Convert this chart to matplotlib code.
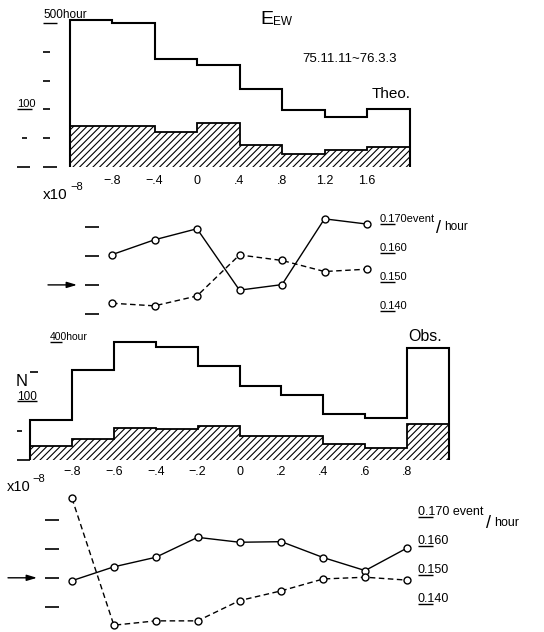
import matplotlib
matplotlib.use('Agg')
import matplotlib.pyplot as plt

plt.rcParams['font.family'] = ['Liberation Sans', 'DejaVu Sans']
plt.rcParams['hatch.linewidth'] = 0.8

# - Theoretical distribution (upper half)
theo_edges = [-1.2, -0.8, -0.4, 0.0, 0.4, 0.8, 1.2, 1.6, 2.0]
theo_total = [255, 250, 187, 177, 135, 99, 87, 101]      # hours
theo_hatch = [71, 71, 60, 76, 39, 22, 30, 35]
theo_ticks = [-0.8, -0.4, 0.0, 0.4, 0.8, 1.2, 1.6]
theo_ticklabels = ['\u2212.8', '\u2212.4', '0', '.4', '.8', '1.2', '1.6']
theo_x = [-0.8, -0.4, 0.0, 0.4, 0.8, 1.2, 1.6]
theo_solid = [0.1604, 0.1655, 0.1693, 0.1482, 0.1501, 0.1727, 0.1709]
theo_dash = [0.1437, 0.1428, 0.1462, 0.1603, 0.1584, 0.1546, 0.1554]

# - Observed distribution (lower half)
obs_edges = [-1.0, -0.8, -0.6, -0.4, -0.2, 0.0, 0.2, 0.4, 0.6, 0.8, 1.0]
obs_total = [68, 153, 200, 192, 160, 126, 111, 79, 72, 190]
obs_hatch = [24, 35, 54, 52, 57, 40, 40, 27, 20, 62]
obs_ticks = [-0.8, -0.6, -0.4, -0.2, 0.0, 0.2, 0.4, 0.6, 0.8]
obs_ticklabels = ['\u2212.8', '\u2212.6', '\u2212.4', '\u2212.2', '0', '.2', '.4', '.6', '.8']
obs_x = [-0.8, -0.6, -0.4, -0.2, 0.0, 0.2, 0.4, 0.6, 0.8]
obs_solid = [0.1490, 0.1538, 0.1571, 0.1640, 0.1623, 0.1625, 0.1570, 0.1525, 0.1603]
obs_dash = [0.1775, 0.1336, 0.1351, 0.1351, 0.1421, 0.1455, 0.1496, 0.1502, 0.1492]

rate_ticks = [0.140, 0.150, 0.160, 0.170]
rate_labels = ['0.140', '0.150', '0.160', '0.170']

W, H = 544, 632
fig = plt.figure(figsize=(W / 100, H / 100), dpi=100)


def panel(top, bottom, x0px, xppu, y0px, y0val, yppu):
    ax = fig.add_axes([0, 1 - bottom / H, 1, (bottom - top) / H])
    ax.set_xlim(-x0px / xppu, (W - x0px) / xppu)
    ax.set_ylim(y0val - (bottom - y0px) / yppu, y0val + (y0px - top) / yppu)
    for s in ax.spines.values():
        s.set_visible(False)
    ax.set_xticks([])
    ax.set_yticks([])
    ax.patch.set_alpha(0)
    return ax


def ftext(xpx, ypx, s, size, **kw):
    fig.text(xpx / W, 1 - ypx / H, s, fontsize=size, va='baseline', ha='left', **kw)


def dash(ax, y, x1, x2, lw=1.2):
    ax.hlines(y, x1 / W, x2 / W, transform=ax.get_yaxis_transform(), color='k', lw=lw)


def hist(ax, edges, total, hatched):
    ax.stairs(hatched, edges, fill=True, facecolor='white', edgecolor='k',
              hatch='/////', lw=1.3)
    ax.stairs(total, edges, color='k', lw=1.5)


def lines(ax, x, solid, dashed):
    ax.plot(x, solid, '-o', color='k', lw=1.0, ms=5, mfc='white', mew=1.0, clip_on=False)
    ax.plot(x, dashed, color='k', lw=1.0, ls=(0, (4, 2.5)), marker='o', ms=5,
            mfc='white', mew=1.0, clip_on=False)


def xlabels(ax, ticks, labels, pad):
    ax.spines['bottom'].set_position(('data', 0))
    ax.set_xticks(ticks, labels)
    ax.tick_params(axis='x', length=0, pad=pad, labelsize=9)


def rate_axis(ax, xtick, xlab, size, first):
    # left dashes, arrow at 0.150 and underlined labels on the right
    for v in rate_ticks:
        dash(ax, v, xtick, xtick + 14)
    tr = ax.get_yaxis_transform()
    for v, s in zip(rate_ticks, rate_labels):
        ax.annotate(first if s == '0.170' else s, (xlab / W, v + 0.001), xycoords=tr,
                    xytext=(0, 1.5), textcoords='offset points', fontsize=size,
                    va='baseline')
        dash(ax, v + 0.001, xlab, xlab + 15, lw=1.0)
    ax.annotate('', xy=((xtick - 8) / W, 0.150), xytext=((xtick - 37) / W, 0.150),
                xycoords=tr, arrowprops=dict(arrowstyle='-|>,head_length=0.6,head_width=0.18',
                                             color='k', lw=1.0, shrinkA=0, shrinkB=0))


# - Panel 1: theoretical hours
ax1 = panel(0, 200, 197, 106.25, 167, 0, 0.576)
hist(ax1, theo_edges, theo_total, theo_hatch)
xlabels(ax1, theo_ticks, theo_ticklabels, 5.5)
for v in [50, 100, 150, 200]:
    dash(ax1, v, 43, 50)
dash(ax1, 0, 43, 57)
dash(ax1, 0, 17, 30)
dash(ax1, 50, 22, 27)
dash(ax1, 100, 17, 32, lw=1.0)
dash(ax1, 250, 43, 57, lw=1.0)
ftext(43, 18, '500hour', 8.5)
ftext(17, 107, '100', 8)
ftext(260, 24, 'E', 14)
ftext(273, 25, 'EW', 8.5)
ftext(302, 62, '75.11.11~76.3.3', 9.5)
ftext(372, 98, 'Theo.', 11)

# - Panel 2: theoretical event rate
ax2 = panel(200, 320, 197, 106.25, 314, 0.140, 2910)
lines(ax2, theo_x, theo_solid, theo_dash)
rate_axis(ax2, 85, 380, 8, '0.170event')
ftext(43, 199, 'x10', 11)
ftext(70, 190, '\u22128', 8)
ftext(436, 233, '/', 13)
ftext(444, 230, 'hour', 8.5)

# - Panel 3: observed hours
ax3 = panel(320, 490, 239.5, 209.4, 460, 0, 0.588)
hist(ax3, obs_edges, obs_total, obs_hatch)
xlabels(ax3, obs_ticks, obs_ticklabels, 4.0)
dash(ax3, 0, 17, 30)
dash(ax3, 50, 17, 22)
dash(ax3, 100, 17, 37, lw=1.0)
dash(ax3, 150, 30, 38)
dash(ax3, 200, 50, 62, lw=1.0)
ftext(50, 340, '400hour', 7.5)
ftext(17, 400, '100', 8.5)
ftext(16, 386, 'N', 12)
ftext(408, 341, 'Obs.', 11.5)

# - Panel 4: observed event rate
ax4 = panel(490, 632, 239.5, 209.4, 606.7, 0.140, 2890)
lines(ax4, obs_x, obs_solid, obs_dash)
rate_axis(ax4, 45, 418, 9, '0.170 event')
ftext(7, 491, 'x10', 10.5)
ftext(32, 482, '\u22128', 8)
ftext(486, 528, '/', 13)
ftext(494, 526, 'hour', 9)

fig.savefig('out.png', dpi=100)
